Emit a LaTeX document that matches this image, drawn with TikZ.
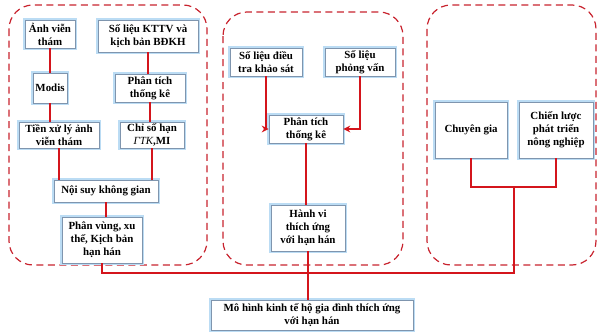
\documentclass[tikz,border=0pt]{standalone}
\usepackage{fontspec}
\setmainfont{Liberation Serif}
\usetikzlibrary{arrows.meta}
\definecolor{dashred}{HTML}{C8232E}
\definecolor{linkred}{HTML}{D4151C}
\definecolor{boxline}{HTML}{7F95AE}
\definecolor{glow}{HTML}{BBDCF4}

\begin{document}
\begin{tikzpicture}[x=1pt,y=-1pt,
 group/.style={draw=dashred,line width=1.2pt,dash pattern=on 7pt off 4.5pt,rounded corners=24pt},
 box/.style={draw=boxline,fill=white,line width=.7pt,align=center,inner sep=1pt,
  font=\fontsize{10.9}{13}\selectfont\bfseries,preaction={draw=glow,line width=4.5pt}},
 link/.style={draw=linkred,line width=1.8pt}]
\useasboundingbox (0,0) rectangle (597,332);
% dashed groups
\draw[group] (9,5) rectangle (207,265);
\draw[group] (223,12) rectangle (403,265);
\draw[group] (427,5) rectangle (596,265);
% boxes
\foreach \n/\x/\y/\w/\h/\lab in {
 anh/50/34/50/28/{Ảnh viễn\\thám},
 kttv/148/36/100/32/{Số liệu KTTV và\\kịch bản BĐKH},
 modis/50/88/34/30/{Modis},
 ptl/150/88/70/28/{Phân tích\\thống kê},
 tienxl/59/135/80/26/{Tiền xử lý ảnh\\viễn thám},
 chiso/152/135/64/26/{Chỉ số hạn\\{\mdseries\itshape ΓTK},MI},
 noisuy/106/191/104/22/{Nội suy không gian},
 phanvung/102/240/80/46/{Phân vùng, xu\\thế, Kịch bản\\hạn hán},
 dieutra/266/62/72/28/{Số liệu điều\\tra khảo sát},
 phongvan/360/62/70/28/{Số liệu\\phỏng vấn},
 ptm/306/129/74/28/{Phân tích\\thống kê},
 hanhvi/308/228/74/46/{Hành vi\\thích ứng\\với hạn hán},
 chuyengia/471/130/72/56/{Chuyên gia},
 chienluoc/556/130/74/56/{Chiến lược\\phát triển\\nông nghiệp},
 mohinh/312/315/202/30/{Mô hình kinh tế hộ gia đình thích ứng\\với hạn hán}}
 \node[box,minimum width=\w pt,minimum height=\h pt] (\n) at (\x,\y) {\lab};
% connectors
\coordinate (jr) at (514,187);
\coordinate (bus) at (0,273);
\draw[link] (anh) -- (modis);
\draw[link] (modis) -- (modis |- tienxl.north);
\draw[link] (kttv) -- (kttv |- ptl.north);
\draw[link] (ptl) -- (ptl |- chiso.north);
\draw[link] (tienxl) -- (tienxl |- noisuy.north);
\draw[link] (chiso) -- (chiso |- noisuy.north);
\draw[link] (noisuy) -- (noisuy |- phanvung.north);
\draw[link,-{Stealth[length=7pt,width=7pt]}] (dieutra.south) |- (ptm.west);
\draw[link,-{Stealth[length=7pt,width=7pt]}] (phongvan.south) |- (ptm.east);
\draw[link] (ptm) -- (ptm |- hanhvi.north);
\draw[link] (hanhvi.south) -- (hanhvi.south |- mohinh.north);
\draw[link] (chuyengia.south) |- (jr) -| (chienluoc.south);
\draw[link] (jr) |- (bus -| phanvung.south) -- (phanvung.south);
\end{tikzpicture}
\end{document}
